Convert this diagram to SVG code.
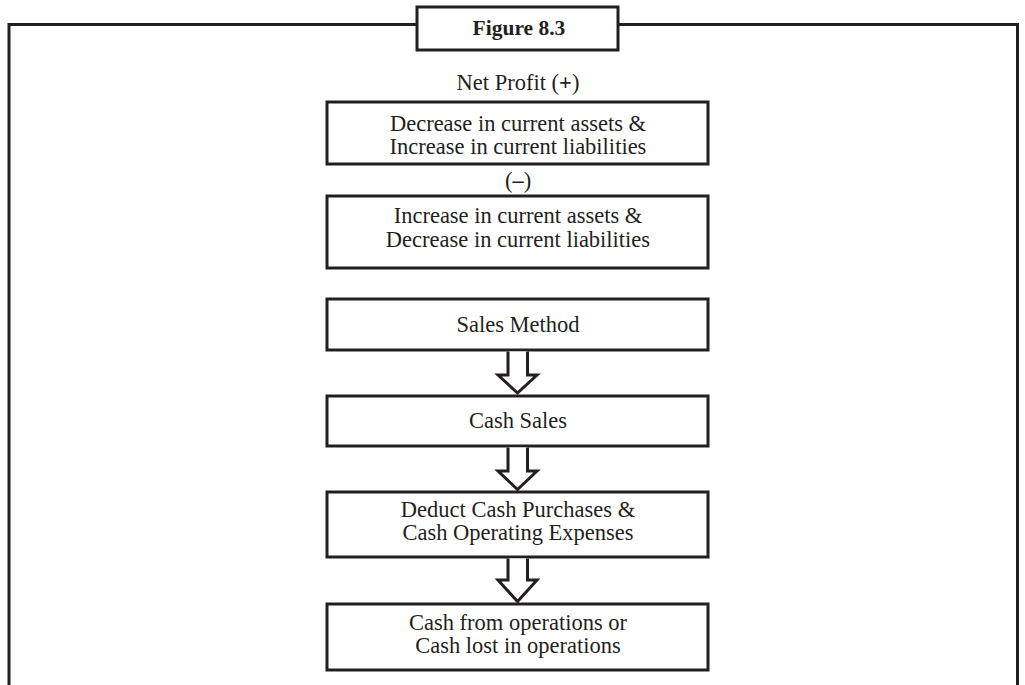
<svg xmlns="http://www.w3.org/2000/svg" width="1025" height="685" viewBox="0 0 1025 685">
  <style>
    .frame { fill: none; stroke: #231f20; stroke-width: 3; }
    .box { fill: #ffffff; stroke: #231f20; stroke-width: 3; }
    .arrow { fill: #ffffff; stroke: #231f20; stroke-width: 3; stroke-linejoin: miter; }
    .t { font-family: "Liberation Serif", "Times New Roman", serif; font-size: 22.5px; fill: #231f20; text-anchor: middle; }
    .title { font-weight: bold; font-size: 21.5px; }
    .b { font-weight: bold; }
  </style>
  <rect width="1025" height="685" fill="#ffffff"/>

  <!-- outer frame, open at the bottom -->
  <path class="frame" d="M9,685 V24.5 H1017.5 V685"/>

  <g id="title">
    <rect class="box" x="417" y="7" width="201" height="43"/>
    <text class="t title" x="519" y="34.5">Figure 8.3</text>
  </g>

  <g id="net-profit">
    <text class="t" x="518" y="90">Net Profit (<tspan class="b">+</tspan>)</text>
  </g>

  <g id="decrease-assets">
    <rect class="box" x="327" y="102" width="381" height="62"/>
    <text class="t" x="518" y="131">Decrease in current assets &amp;</text>
    <text class="t" x="518" y="154">Increase in current liabilities</text>
  </g>

  <g id="minus">
    <text class="t" x="518" y="188">(<tspan class="b">–</tspan>)</text>
  </g>

  <g id="increase-assets">
    <rect class="box" x="327" y="196" width="381" height="72"/>
    <text class="t" x="518" y="223">Increase in current assets &amp;</text>
    <text class="t" x="518" y="247">Decrease in current liabilities</text>
  </g>

  <g id="sales-method">
    <rect class="box" x="327" y="299" width="381" height="51"/>
    <text class="t" x="518" y="332">Sales Method</text>
  </g>

  <g id="cash-sales">
    <rect class="box" x="327" y="396" width="381" height="50"/>
    <text class="t" x="518" y="428">Cash Sales</text>
  </g>

  <g id="deduct-cash">
    <rect class="box" x="327" y="492" width="381" height="65"/>
    <text class="t" x="518" y="517">Deduct Cash Purchases &amp;</text>
    <text class="t" x="518" y="540">Cash Operating Expenses</text>
  </g>

  <g id="cash-from-operations">
    <rect class="box" x="327" y="604" width="381" height="66"/>
    <text class="t" x="518" y="630">Cash from operations or</text>
    <text class="t" x="518" y="653">Cash lost in operations</text>
  </g>

  <!-- hollow block arrows between the method steps -->
  <g id="connectors">
    <path class="arrow" d="M508,351.5 V375 H498 L517.5,393 L537,375 H527.5 V351.5"/>
    <path class="arrow" d="M508,447.5 V471 H498 L517.5,489.5 L537,471 H527.5 V447.5"/>
    <path class="arrow" d="M508,558.5 V580 H498 L517.5,601.5 L537,580 H527.5 V558.5"/>
  </g>
</svg>
